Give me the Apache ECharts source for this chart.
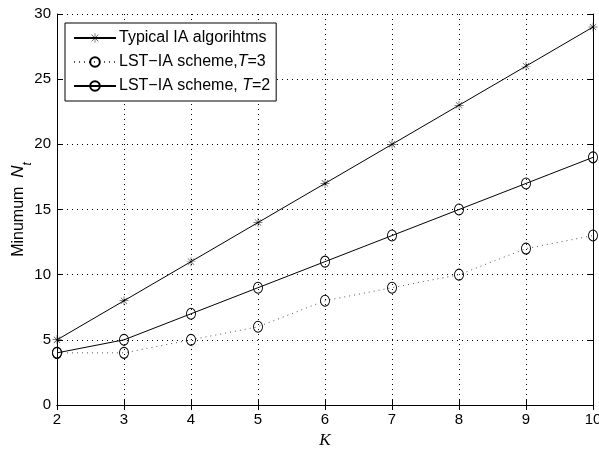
<!DOCTYPE html>
<html><head><meta charset="utf-8">
<script src="https://cdn.jsdelivr.net/npm/echarts@6/dist/echarts.min.js"></script>
<style>html,body{margin:0;padding:0;background:#fff}#c{width:599px;height:451px}</style>
</head><body><div id="c"></div>
<script>
const kValues = [2,3,4,5,6,7,8,9,10];
const typicalIA = [5,8,11,14,17,20,23,26,29];
const lstT3 = [4,4,5,6,8,9,10,12,13];
const lstT2 = [4,5,7,9,11,13,15,17,19];
const seriesNames = ['Typical IA algorihtms','LST\u2212IA scheme,T=3','LST\u2212IA scheme, T=2'];

const star = 'path://M9.5,0 L10.5,0 L10.5,20 L9.5,20 Z M0,9.5 L20,9.5 L20,10.5 L0,10.5 Z M2.6,3.3 L3.3,2.6 L17.4,16.7 L16.7,17.4 Z M16.7,2.6 L17.4,3.3 L3.3,17.4 L2.6,16.7 Z';
const font = 'Liberation Sans';
const pair = a => a.map((v,i)=>[kValues[i], v]);

const chart = echarts.init(document.getElementById('c'));
chart.setOption({
  animation:false,
  backgroundColor:'#fff',
  grid:{left:57,right:6,top:14,bottom:46,show:false,outerBoundsMode:'none',containLabel:false},
  legend:{
    left:65, top:23, orient:'vertical', itemGap:8, itemWidth:42, itemHeight:12,
    backgroundColor:'#fff', borderColor:'#000', borderWidth:1, borderRadius:0, padding:[7,6,7,8],
    textStyle:{fontFamily:font,fontSize:16,color:'#000',padding:[0,0,0,-2],
      rich:{i:{fontFamily:font,fontSize:16,fontStyle:'italic',color:'#000'}}},
    formatter: n => n.replace('T=','{i|T}='),
    data:seriesNames
  },
  xAxis:[{
    type:'value', min:2, max:10, interval:1,
    name:'K', nameLocation:'middle', nameGap:27, nameMoveOverlap:false,
    nameTextStyle:{fontFamily:'Liberation Serif',fontStyle:'italic',fontSize:17,color:'#000'},
    axisLine:{lineStyle:{color:'#000',width:1}},
    axisTick:{inside:true,length:5,lineStyle:{color:'#000'}},
    axisLabel:{fontFamily:font,fontSize:15,color:'#000',margin:7},
    splitLine:{show:true,lineStyle:{color:'#000',type:[1,4],width:1}}
  },{
    type:'value', min:2, max:10, interval:1, position:'top',
    axisLine:{show:true,lineStyle:{color:'#000'}},
    axisTick:{inside:true,length:5,lineStyle:{color:'#000'}},
    axisLabel:{show:false}, splitLine:{show:false}
  }],
  yAxis:[{
    type:'value', min:0, max:30, interval:5,
    name:'Minumum  {i|N}{s|t}', nameLocation:'middle', nameGap:30, nameRotate:90, nameMoveOverlap:false,
    nameTextStyle:{fontFamily:font,fontSize:16,color:'#000',
      rich:{i:{fontFamily:font,fontSize:17,fontStyle:'italic',color:'#000'},
            s:{fontFamily:font,fontSize:12,fontStyle:'italic',color:'#000',verticalAlign:'bottom',padding:[0,0,-7,0]}}},
    axisLine:{show:true,lineStyle:{color:'#000',width:1}},
    axisTick:{inside:true,length:5,lineStyle:{color:'#000'}},
    axisLabel:{fontFamily:font,fontSize:15,color:'#000',margin:6},
    splitLine:{show:true,lineStyle:{color:'#000',type:[1,4],width:1}}
  },{
    type:'value', min:0, max:30, interval:5, position:'right',
    axisLine:{show:true,lineStyle:{color:'#000'}},
    axisTick:{inside:true,length:5,lineStyle:{color:'#000'}},
    axisLabel:{show:false}, splitLine:{show:false}
  }],
  series:[
    {name:seriesNames[0],type:'line',data:pair(typicalIA),symbol:star,symbolSize:9,
     lineStyle:{color:'#000',width:1},itemStyle:{color:'#000'},z:3},
    {name:seriesNames[1],type:'line',data:pair(lstT3),symbol:'circle',symbolSize:[9,11],
     lineStyle:{color:'#555',width:1,type:[1,4]},itemStyle:{color:'rgba(255,255,255,0)',borderColor:'#000',borderWidth:1},z:2},
    {name:seriesNames[2],type:'line',data:pair(lstT2),symbol:'circle',symbolSize:[9,11],
     lineStyle:{color:'#000',width:1},itemStyle:{color:'rgba(255,255,255,0)',borderColor:'#000',borderWidth:1},z:2}
  ]
});
</script></body></html>
